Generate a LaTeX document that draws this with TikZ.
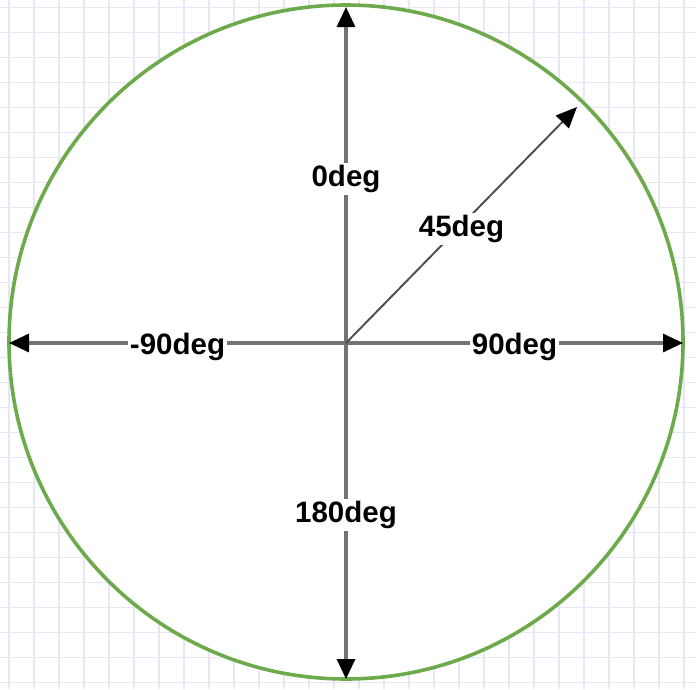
\documentclass[tikz,border=0pt]{standalone}
\usepackage{fontspec}
\setmainfont{Liberation Sans}
\usetikzlibrary{arrows.meta}
\definecolor{gridblue}{RGB}{230,230,246}
\definecolor{ringgreen}{RGB}{108,170,76}
\definecolor{axisgray}{RGB}{115,115,115}

\begin{document}
\begin{tikzpicture}[x=1pt,y=-1pt]
	\tikzset{gridline/.style={draw=gridblue, line width=1.5pt}}
	\tikzset{axis/.style={draw=axisgray, line width=3.2pt, -{Triangle[length=20pt,width=18pt,color=black]}}}
	\tikzset{diag/.style={draw=black!70, line width=1.9pt, -{Triangle[length=21pt,width=18pt,color=black]}}}
	\tikzset{deglabel/.style={fill=white, inner sep=2pt, yshift=-4pt, font=\fontsize{29.5}{34}\selectfont\bfseries}}
	\useasboundingbox (0,0) rectangle (696,689);
	% background grid
	\foreach \k in {0,...,27} {
		\draw[gridline] (9+25*\k,0) -- (9+25*\k,689);
		\draw[gridline] (0,7.3+25*\k) -- (696,7.3+25*\k);
	}
	\draw[ringgreen, line width=3.6pt, fill=white] (346,342) circle (337);
	\coordinate (o) at (346,343);
	\coordinate (top) at (346,7);
	\coordinate (bot) at (346,679);
	\coordinate (west) at (9,343);
	\coordinate (east) at (683,343);
	\coordinate (ne) at (577,107);
	\draw[axis] (o) -- node[deglabel] (l0) {0deg} (top);
	\draw[axis] (o) -- node[deglabel] (l180) {180deg} (bot);
	\draw[axis] (o) -- node[deglabel] (lm90) {-90deg} (west);
	\draw[axis] (o) -- node[deglabel] (l90) {90deg} (east);
	\draw[diag] (o) -- node[deglabel] (l45) {45deg} (ne);
\end{tikzpicture}
\end{document}
